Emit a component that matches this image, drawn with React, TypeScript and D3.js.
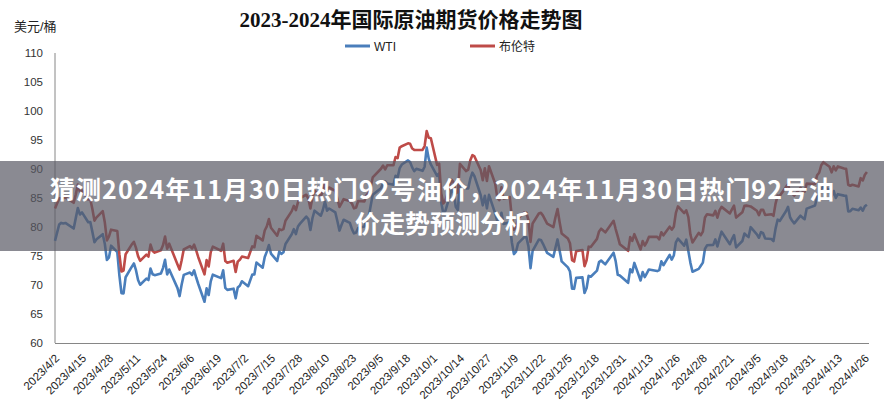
import React from 'react';
import * as d3 from 'd3';

const dates = [
'2023-04-02','2023-04-04','2023-04-05','2023-04-06','2023-04-07','2023-04-11','2023-04-12','2023-04-13','2023-04-14','2023-04-15',
'2023-04-18','2023-04-19','2023-04-20','2023-04-21','2023-04-22','2023-04-25','2023-04-26','2023-04-27','2023-04-28','2023-04-29',
'2023-05-02','2023-05-03','2023-05-04','2023-05-05','2023-05-06','2023-05-09','2023-05-10','2023-05-11','2023-05-12','2023-05-13',
'2023-05-16','2023-05-17','2023-05-18','2023-05-19','2023-05-20','2023-05-23','2023-05-24','2023-05-25','2023-05-26','2023-05-27',
'2023-05-31','2023-06-01','2023-06-02','2023-06-03','2023-06-06','2023-06-07','2023-06-08','2023-06-09','2023-06-10','2023-06-13',
'2023-06-14','2023-06-15','2023-06-16','2023-06-17','2023-06-21','2023-06-22','2023-06-23','2023-06-24','2023-06-27','2023-06-28',
'2023-06-29','2023-06-30','2023-07-01','2023-07-04','2023-07-06','2023-07-07','2023-07-08','2023-07-11','2023-07-12','2023-07-13',
'2023-07-14','2023-07-15','2023-07-18','2023-07-19','2023-07-20','2023-07-21','2023-07-22','2023-07-25','2023-07-26','2023-07-27',
'2023-07-28','2023-07-29','2023-08-01','2023-08-02','2023-08-03','2023-08-04','2023-08-05','2023-08-08','2023-08-09','2023-08-10',
'2023-08-11','2023-08-12','2023-08-15','2023-08-16','2023-08-17','2023-08-18','2023-08-19','2023-08-22','2023-08-23','2023-08-24',
'2023-08-25','2023-08-26','2023-08-29','2023-08-30','2023-08-31','2023-09-01','2023-09-02','2023-09-06','2023-09-07','2023-09-08',
'2023-09-09','2023-09-12','2023-09-13','2023-09-14','2023-09-15','2023-09-16','2023-09-19','2023-09-20','2023-09-21','2023-09-22',
'2023-09-23','2023-09-26','2023-09-27','2023-09-28','2023-09-29','2023-09-30','2023-10-03','2023-10-04','2023-10-05','2023-10-06',
'2023-10-07','2023-10-10','2023-10-11','2023-10-12','2023-10-13','2023-10-14','2023-10-17','2023-10-18','2023-10-19','2023-10-20',
'2023-10-21','2023-10-24','2023-10-25','2023-10-26','2023-10-27','2023-10-28','2023-10-31','2023-11-01','2023-11-02','2023-11-03',
'2023-11-04','2023-11-07','2023-11-08','2023-11-09','2023-11-10','2023-11-11','2023-11-14','2023-11-15','2023-11-16','2023-11-17',
'2023-11-18','2023-11-21','2023-11-22','2023-11-23','2023-11-25','2023-11-28','2023-11-29','2023-11-30','2023-12-01','2023-12-02',
'2023-12-05','2023-12-06','2023-12-07','2023-12-08','2023-12-09','2023-12-12','2023-12-13','2023-12-14','2023-12-15','2023-12-16',
'2023-12-19','2023-12-20','2023-12-21','2023-12-22','2023-12-23','2023-12-27','2023-12-28','2023-12-29','2023-12-30',
'2024-01-03','2024-01-04','2024-01-05','2024-01-06','2024-01-09','2024-01-10','2024-01-11','2024-01-12','2024-01-13',
'2024-01-17','2024-01-18','2024-01-19','2024-01-20','2024-01-23','2024-01-24','2024-01-25','2024-01-26','2024-01-27',
'2024-01-30','2024-01-31','2024-02-01','2024-02-02','2024-02-03','2024-02-06','2024-02-07','2024-02-08','2024-02-09','2024-02-10',
'2024-02-13','2024-02-14','2024-02-15','2024-02-16','2024-02-17','2024-02-21','2024-02-22','2024-02-23','2024-02-24',
'2024-02-27','2024-02-28','2024-02-29','2024-03-01','2024-03-02','2024-03-05','2024-03-06','2024-03-07','2024-03-08','2024-03-09',
'2024-03-12','2024-03-13','2024-03-14','2024-03-15','2024-03-16','2024-03-19','2024-03-20','2024-03-21','2024-03-22','2024-03-23',
'2024-03-26','2024-03-27','2024-03-28','2024-03-29','2024-04-02','2024-04-03','2024-04-04','2024-04-05','2024-04-06',
'2024-04-09','2024-04-10','2024-04-11','2024-04-12','2024-04-13','2024-04-16','2024-04-17','2024-04-18','2024-04-19','2024-04-20',
'2024-04-23','2024-04-24','2024-04-25','2024-04-26','2024-04-27'
];

const wti = [
77.6,80.42,80.71,80.61,80.70,79.74,81.53,83.26,82.16,82.52,
80.83,80.86,79.16,77.37,77.87,78.76,77.07,74.30,74.76,76.78,
75.66,71.66,68.60,68.56,71.34,73.16,73.71,72.56,70.87,70.04,
71.11,70.86,72.83,71.86,71.69,71.99,72.91,74.34,71.83,72.67,
69.46,68.09,70.10,71.74,72.15,71.74,72.53,71.29,70.17,67.12,
69.42,68.27,70.62,71.78,71.19,72.53,69.51,69.16,69.37,67.70,
69.56,69.86,70.64,69.79,71.79,71.80,73.86,72.99,74.83,75.75,
76.89,75.42,74.15,75.75,75.35,75.63,77.07,78.74,79.63,78.78,
80.09,80.58,81.80,81.37,79.49,81.55,82.82,81.94,82.92,84.40,
82.82,83.19,82.51,80.99,79.38,80.39,81.25,80.72,79.64,78.89,
79.05,79.83,80.10,81.16,81.63,83.63,85.55,86.69,87.54,87.87,
87.51,87.29,88.84,88.52,90.16,90.77,91.48,91.20,90.28,89.63,
90.03,89.68,90.39,93.68,91.71,90.79,88.82,89.23,84.22,82.31,
82.79,86.38,85.97,83.49,82.91,87.69,86.66,86.66,88.32,89.37,
88.75,85.49,83.74,85.39,83.21,85.54,82.31,81.02,80.44,82.46,
80.51,80.82,77.37,75.33,75.74,77.17,78.26,78.26,76.66,72.90,
75.89,77.83,77.77,77.10,75.54,74.86,76.41,77.86,75.96,74.07,
73.04,72.32,69.38,69.34,71.23,71.32,68.61,69.47,71.58,71.43,
72.47,73.94,74.22,73.89,73.56,75.57,74.11,71.77,71.65,
70.38,72.70,72.19,73.81,70.77,72.24,71.37,72.02,72.68,
72.40,72.56,74.08,73.41,75.19,74.37,75.09,77.36,78.01,
76.78,77.82,75.85,73.82,72.28,72.78,73.31,73.86,76.22,76.84,
76.92,77.87,76.64,78.03,79.19,77.04,77.91,78.61,76.49,
77.58,78.87,78.54,78.26,79.97,78.74,78.15,79.13,78.93,78.01,
77.93,77.56,79.72,81.26,81.04,82.72,83.47,81.68,81.07,80.63,
81.95,81.62,81.35,83.17,83.71,85.15,85.43,86.59,86.91,
86.43,85.23,86.21,85.02,85.66,85.41,85.36,82.69,82.73,83.14,
82.90,83.36,82.81,83.57,83.85
];

const brent = [
83.2,84.93,84.94,84.99,85.12,84.18,85.61,87.33,86.09,86.31,
84.76,84.77,83.12,81.10,81.66,82.73,80.77,77.69,78.37,79.54,
79.31,75.32,72.33,72.50,75.30,77.01,77.44,76.41,74.98,74.17,
75.23,74.91,76.96,75.86,75.58,75.99,76.84,78.36,76.26,77.12,
73.54,72.66,74.28,76.13,76.71,76.29,76.95,75.96,74.79,71.84,
74.29,73.20,75.67,76.61,75.90,77.12,74.14,73.85,74.18,72.26,
74.03,74.34,74.90,74.65,76.65,76.52,78.47,77.69,79.40,80.11,
81.36,79.87,78.50,79.63,79.46,79.64,81.07,82.74,83.64,82.92,
84.24,84.99,85.56,84.91,83.20,85.14,86.24,85.34,86.17,87.55,
86.40,86.81,86.21,84.89,83.45,84.12,84.80,84.46,84.03,83.21,
83.36,84.48,84.42,85.49,85.86,86.86,88.55,90.04,90.60,89.92,
90.65,90.64,92.06,91.88,93.70,93.93,94.43,94.34,93.53,93.30,
93.27,93.29,93.96,96.55,95.38,95.31,90.71,90.92,85.81,84.07,
84.58,88.15,87.65,85.82,86.00,90.89,89.65,89.90,91.50,92.38,
92.16,89.83,88.07,90.13,87.93,90.48,87.45,85.02,84.63,86.85,
84.89,85.18,81.61,79.54,80.01,81.43,82.52,82.47,81.18,77.42,
80.61,82.32,82.45,81.96,80.58,79.98,81.68,83.10,80.86,78.88,
78.03,77.20,74.30,74.05,75.84,76.03,73.24,74.26,76.61,76.55,
77.95,79.23,79.70,79.39,79.07,81.07,79.65,78.39,77.04,
75.89,78.25,77.59,78.76,76.12,77.59,76.80,77.41,78.29,
78.29,77.88,79.10,78.56,80.06,79.55,80.04,82.43,83.55,
82.40,82.87,81.71,78.70,77.33,78.99,78.59,79.21,81.63,82.19,
82.00,82.77,81.60,82.86,83.47,82.34,83.03,83.67,81.62,
82.53,83.65,83.68,83.62,83.55,82.80,82.04,82.96,82.96,82.08,
82.21,81.92,84.03,85.42,85.34,86.89,87.38,85.95,85.78,85.43,
86.75,86.25,86.09,87.48,87.42,88.92,89.35,90.65,91.17,
90.38,89.42,90.48,89.74,90.45,90.10,90.02,87.29,87.11,87.29,
87.00,88.42,88.02,89.01,89.50
];

const xTickLabels = [
'2023/4/2','2023/4/15','2023/4/28','2023/5/11','2023/5/24','2023/6/6','2023/6/19','2023/7/2',
'2023/7/15','2023/7/28','2023/8/10','2023/8/23','2023/9/5','2023/9/18','2023/10/1','2023/10/14',
'2023/10/27','2023/11/9','2023/11/22','2023/12/5','2023/12/18','2023/12/31','2024/1/13','2024/1/26',
'2024/2/8','2024/2/21','2024/3/5','2024/3/18','2024/3/31','2024/4/13','2024/4/26'
];
const yTicks = [60, 65, 70, 75, 80, 85, 90, 95, 100, 105, 110];
const seriesNames = ['WTI', '布伦特'];
const seriesColors = ['#4a7ebb', '#be4b48'];

const title = '2023-2024年国际原油期货价格走势图';
const yUnit = '美元/桶';
const bannerLine1 = '猜测2024年11月30日热门92号油价，2024年11月30日热门92号油';
const bannerLine2 = '价走势预测分析';

export default function App() {
  const W = 884, H = 412;
  const left = 55, right = 869, top = 53, bottom = 343;
  const parse = d3.timeParse('%Y-%m-%d');
  const parseLabel = d3.timeParse('%Y/%m/%d');
  const x = d3.scaleTime()
    .domain([parse('2023-04-02') as Date, parse('2024-04-28') as Date])
    .range([left, right]);
  const y = d3.scaleLinear().domain([60, 110]).range([bottom, top]);

  const pts = dates.map((d, i) => ({ date: parse(d) as Date, w: wti[i], b: brent[i] }));
  const lineW = d3.line<any>().x(d => x(d.date)).y(d => y(d.w));
  const lineB = d3.line<any>().x(d => x(d.date)).y(d => y(d.b));

  const sans = '"Liberation Sans", "Noto Sans CJK SC", sans-serif';
  const cjk = '"Noto Sans CJK SC", sans-serif';

  return (
    <div style={{ position: 'absolute', left: 0, top: 0, width: W, height: H, background: '#fff' }}>
      <svg width={W} height={H} style={{ display: 'block' }}>
        <rect x={0} y={0} width={W} height={H} fill="#fff" />
        <text x={411} y={26.5} textAnchor="middle" fontSize={21} fontWeight="bold"
          fontFamily='"Liberation Serif", "Noto Sans CJK SC", serif' fill="#111">{title}</text>
        <text x={14} y={31} fontSize={13} fontFamily={sans} fill="#222">{yUnit}</text>

        {/* legend */}
        {seriesNames.map((n, i) => (
          <g key={n} transform={`translate(${i === 0 ? 345 : 470},46)`}>
            <line x1={0} x2={25} y1={0} y2={0} stroke={seriesColors[i]} strokeWidth={3} />
            <text x={29} y={4.5} fontSize={12} fontFamily={sans} fill="#222">{n}</text>
          </g>
        ))}

        {/* y axis */}
        <line x1={left} x2={left} y1={top} y2={bottom} stroke="#868686" strokeWidth={1} />
        {yTicks.map(t => (
          <text key={t} x={43} y={y(t) + 4} textAnchor="end" fontSize={11.5} fontFamily={sans} fill="#333">{t}</text>
        ))}
        {/* x axis */}
        <line x1={left} x2={right} y1={bottom + 0.5} y2={bottom + 0.5} stroke="#868686" strokeWidth={1} />
        {xTickLabels.map(l => {
          const px = x(parseLabel(l) as Date);
          return (
            <text key={l} transform={`translate(${px + 5},${bottom + 16}) rotate(-45)`} textAnchor="end"
              fontSize={11.5} fontFamily={sans} fill="#222">{l}</text>
          );
        })}

        <path d={lineW(pts) || ''} fill="none" stroke={seriesColors[0]} strokeWidth={2.6} strokeLinejoin="round" />
        <path d={lineB(pts) || ''} fill="none" stroke={seriesColors[1]} strokeWidth={2.6} strokeLinejoin="round" />

        {/* banner overlay */}
        <rect x={0} y={161} width={W} height={90} fill="rgb(88,88,100)" fillOpacity={0.7} />
        <text x={442} y={199} textAnchor="middle" fontSize={25} fontWeight="bold" fontFamily={cjk} fill="#fff"
          textLength={784} lengthAdjust="spacing">{bannerLine1}</text>
        <text x={442.5} y={233} textAnchor="middle" fontSize={25} fontWeight="bold" fontFamily={cjk} fill="#fff">{bannerLine2}</text>
      </svg>
    </div>
  );
}
